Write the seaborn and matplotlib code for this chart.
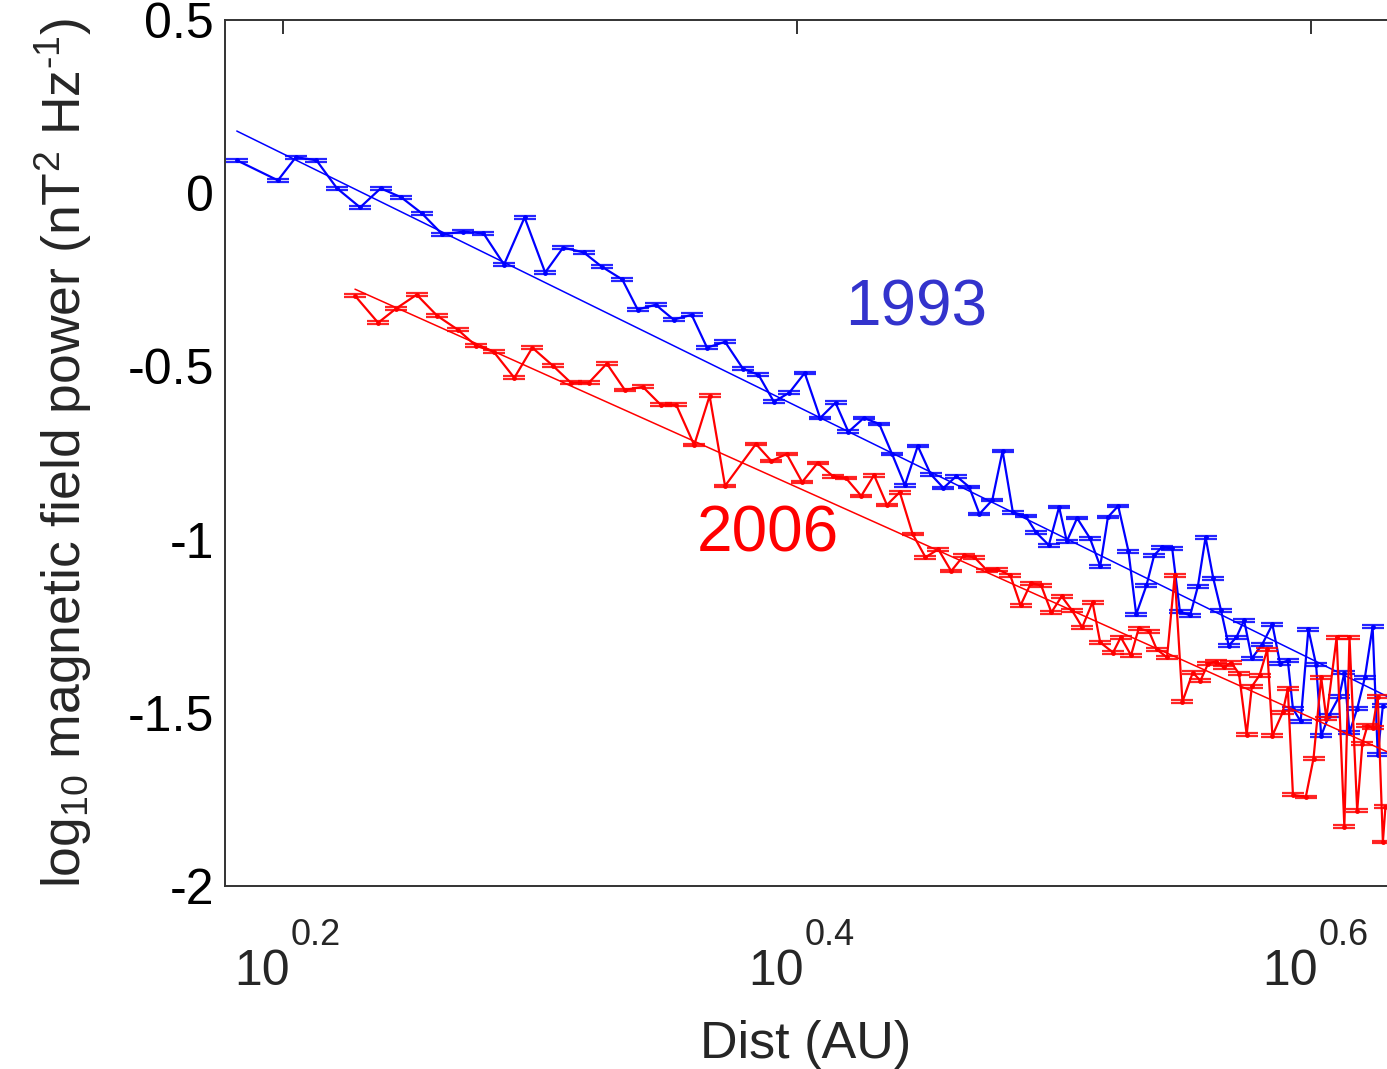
import numpy as np
import pandas as pd
import matplotlib
matplotlib.use("Agg")
import matplotlib.pyplot as plt
import seaborn as sns
from matplotlib.ticker import NullLocator, FuncFormatter

# ----------------------------------------------------------------------------------
# Data: log10 of distance in AU, log10 power in nT^2/Hz
# ----------------------------------------------------------------------------------
blue_log_dist = [0.182, 0.198, 0.205, 0.213, 0.221, 0.230, 0.238, 0.246, 0.254, 0.262,
                 0.270, 0.278, 0.286, 0.294, 0.302, 0.309, 0.317, 0.324, 0.332, 0.338,
                 0.345, 0.352, 0.359, 0.365, 0.372, 0.379, 0.385, 0.391, 0.397, 0.403,
                 0.409, 0.415, 0.420, 0.426, 0.432, 0.437, 0.442, 0.447, 0.452, 0.457,
                 0.462, 0.467, 0.471, 0.476, 0.480, 0.484, 0.489, 0.493, 0.498, 0.502,
                 0.505, 0.509, 0.514, 0.518, 0.521, 0.525, 0.529, 0.532, 0.536, 0.539,
                 0.542, 0.546, 0.549, 0.553, 0.556, 0.559, 0.562, 0.565, 0.568, 0.571,
                 0.574, 0.577, 0.581, 0.585, 0.588, 0.591, 0.593, 0.596, 0.599, 0.602,
                 0.604, 0.607, 0.611, 0.613, 0.615, 0.618, 0.621, 0.624, 0.626, 0.628]
blue_power = [0.095, 0.037, 0.104, 0.095, 0.014, -0.041, 0.014, -0.012, -0.058, -0.119,
              -0.111, -0.116, -0.206, -0.070, -0.229, -0.157, -0.171, -0.212, -0.249, -0.336,
              -0.322, -0.365, -0.351, -0.446, -0.429, -0.507, -0.524, -0.602, -0.576, -0.519,
              -0.649, -0.605, -0.689, -0.649, -0.666, -0.753, -0.843, -0.730, -0.811, -0.851,
              -0.817, -0.848, -0.926, -0.886, -0.744, -0.921, -0.932, -0.979, -1.016, -0.906,
              -1.005, -0.938, -0.996, -1.077, -0.935, -0.903, -1.034, -1.216, -1.132, -1.045,
              -1.022, -1.025, -1.207, -1.219, -1.135, -0.993, -1.112, -1.204, -1.306, -1.282,
              -1.233, -1.343, -1.303, -1.245, -1.358, -1.349, -1.488, -1.525, -1.259, -1.361,
              -1.566, -1.508, -1.453, -1.384, -1.557, -1.488, -1.398, -1.251, -1.621, -1.479]

red_log_dist = [0.228, 0.237, 0.244, 0.252, 0.260, 0.268, 0.275, 0.282, 0.290, 0.297,
                0.305, 0.312, 0.319, 0.326, 0.333, 0.340, 0.347, 0.353, 0.360, 0.366,
                0.372, 0.384, 0.390, 0.396, 0.402, 0.408, 0.414, 0.419, 0.425, 0.430,
                0.435, 0.440, 0.445, 0.450, 0.455, 0.460, 0.465, 0.469, 0.474, 0.478,
                0.483, 0.487, 0.491, 0.495, 0.499, 0.503, 0.507, 0.511, 0.515, 0.518,
                0.523, 0.526, 0.530, 0.533, 0.537, 0.540, 0.544, 0.547, 0.550, 0.554,
                0.557, 0.560, 0.563, 0.566, 0.569, 0.572, 0.575, 0.577, 0.580, 0.583,
                0.585, 0.589, 0.591, 0.593, 0.598, 0.601, 0.604, 0.606, 0.610, 0.613,
                0.615, 0.618, 0.620, 0.622, 0.624, 0.626, 0.628, 0.629]
red_power = [-0.296, -0.374, -0.333, -0.293, -0.354, -0.394, -0.440, -0.458, -0.533, -0.446,
             -0.498, -0.547, -0.547, -0.492, -0.568, -0.559, -0.611, -0.611, -0.727, -0.585,
             -0.845, -0.724, -0.773, -0.753, -0.834, -0.779, -0.817, -0.822, -0.874, -0.814,
             -0.900, -0.863, -0.984, -1.051, -1.028, -1.091, -1.045, -1.051, -1.089, -1.086,
             -1.103, -1.190, -1.126, -1.132, -1.210, -1.164, -1.204, -1.253, -1.181, -1.297,
             -1.326, -1.282, -1.334, -1.256, -1.265, -1.317, -1.340, -1.103, -1.468, -1.384,
             -1.407, -1.358, -1.352, -1.369, -1.355, -1.387, -1.563, -1.424, -1.392, -1.317,
             -1.566, -1.499, -1.430, -1.737, -1.743, -1.632, -1.398, -1.517, -1.282, -1.829,
             -1.282, -1.783, -1.589, -1.537, -1.543, -1.453, -1.873, -1.771]

# power-law fits: (intercept, slope) of log10 power vs log10 distance
blue_fit = (0.843, -3.646)
red_fit = (0.481, -3.325)

x_tick_exponents = [0.2, 0.4, 0.6]
y_ticks = [0.5, 0, -0.5, -1, -1.5, -2]

# ----------------------------------------------------------------------------------
# Style
# ----------------------------------------------------------------------------------
sns.set_theme(style="white")
plt.rcParams["font.family"] = ["Liberation Sans", "DejaVu Sans"]
plt.rcParams["mathtext.fontset"] = "custom"
plt.rcParams["mathtext.rm"] = "Liberation Sans"
plt.rcParams["mathtext.it"] = "Liberation Sans:italic"
plt.rcParams["mathtext.bf"] = "Liberation Sans:bold"
plt.rcParams["axes.unicode_minus"] = False

fig = plt.figure(figsize=(13.87, 10.69), dpi=100)
ax = fig.add_axes([0.1622, 0.1712, 0.8378, 0.8101])
ax.set_xscale("log")

series = [
    ("1993", blue_log_dist, blue_power, blue_fit, "#0000ff"),
    ("2006", red_log_dist, red_power, red_fit, "#ff0000"),
]

for year, log_d, power, fit, color in series:
    df = pd.DataFrame({"dist": 10 ** np.array(log_d), "power": power})
    sns.lineplot(data=df, x="dist", y="power", color=color, lw=1.6,
                 marker=".", markersize=7, markeredgewidth=0, ax=ax)
    ax.errorbar(df["dist"], df["power"], yerr=0.004, fmt="none", ecolor=color,
                elinewidth=1, capsize=8, capthick=1.6, alpha=0.85)
    fit_l = np.array([log_d[0], log_d[-1] + 0.002])
    sns.lineplot(x=10 ** fit_l, y=fit[0] + fit[1] * fit_l, color=color, lw=1.1, ax=ax)

ax.set_xlim(10 ** 0.1774, 10 ** 0.6296)
ax.set_ylim(-2, 0.5)

# x ticks: "10" with a raised exponent, drawn as two texts like MATLAB does
ax.set_xticks([10 ** e for e in x_tick_exponents])
ax.set_xticklabels([])
ax.xaxis.set_minor_locator(NullLocator())
for e in x_tick_exponents:
    ax.annotate("10", xy=(10 ** e, 0), xycoords=("data", "axes fraction"),
                xytext=(5, -71), textcoords="offset points",
                ha="right", va="baseline", fontsize=36, annotation_clip=False)
    ax.annotate(f"{e}", xy=(10 ** e, 0), xycoords=("data", "axes fraction"),
                xytext=(5.5, -42.5), textcoords="offset points",
                ha="left", va="baseline", fontsize=26, annotation_clip=False)

ax.set_yticks(y_ticks)
ax.yaxis.set_major_formatter(FuncFormatter(lambda v, _: f"{v:g}"))

ax.tick_params(axis="both", direction="in", length=10, width=1.4, top=True,
               right=False, labelsize=36, colors="#333333", labelcolor="black")
ax.tick_params(axis="y", pad=8)

for side in ["left", "bottom", "top"]:
    ax.spines[side].set_color("#333333")
    ax.spines[side].set_linewidth(1.4)
ax.spines["right"].set_visible(False)

ax.set_xlabel("Dist (AU)", fontsize=37.5, va="baseline")
ax.xaxis.set_label_coords(0.5, -(1058 - 886) / 866)
ax.set_ylabel("log$_{10}$ magnetic field power (nT$^2$ Hz$^{\\text{-}1}$)",
              fontsize=38.5, labelpad=24)

ax.text(10 ** 0.4187, -0.333, "1993", color="#3333cc", fontsize=46, ha="left", va="center")
ax.text(10 ** 0.3611, -0.984, "2006", color="#ff0000", fontsize=46, ha="left", va="center")

fig.savefig("out.png", dpi=100)
plt.close(fig)
